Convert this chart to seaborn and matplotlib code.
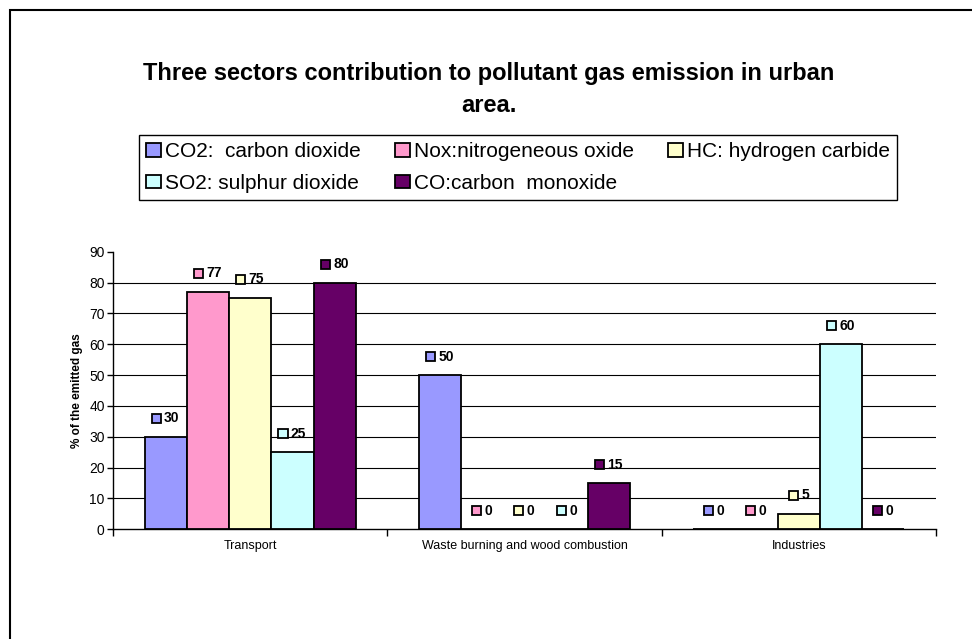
import matplotlib
matplotlib.use("Agg")
import matplotlib.pyplot as plt
import seaborn as sns
import pandas as pd
from matplotlib.patches import Rectangle, Patch
from matplotlib.offsetbox import AnnotationBbox, HPacker, DrawingArea, TextArea

# ---- data ----
sectors = ["Transport", "Waste burning and wood combustion", "Industries"]
gases = ["CO2:  carbon dioxide", "Nox:nitrogeneous oxide", "HC: hydrogen carbide",
         "SO2: sulphur dioxide", "CO:carbon  monoxide"]
co2 = [30, 50, 0]
nox = [77, 0, 0]
hc = [75, 0, 5]
so2 = [25, 0, 60]
co = [80, 15, 0]
colors = ["#9999FF", "#FF99CC", "#FFFFCC", "#CCFFFF", "#660066"]
yticks = [0, 10, 20, 30, 40, 50, 60, 70, 80, 90]
title = "Three sectors contribution to pollutant gas emission in urban\narea."
ylabel = "% of the emitted gas"

series = [co2, nox, hc, so2, co]
rows = []
for g, vals in zip(gases, series):
    for s, v in zip(sectors, vals):
        rows.append({"sector": s, "gas": g, "value": v})
df = pd.DataFrame(rows)

sns.set_theme(style="white")
plt.rcParams["font.family"] = ["Liberation Sans", "DejaVu Sans"]
plt.rcParams["text.color"] = "black"
plt.rcParams["axes.labelcolor"] = "black"
plt.rcParams["xtick.color"] = "black"
plt.rcParams["ytick.color"] = "black"
plt.rcParams["xtick.labelcolor"] = "black"
plt.rcParams["ytick.labelcolor"] = "black"

W, H = 972, 639
fig = plt.figure(figsize=(W / 100, H / 100), dpi=100)
fig.patch.set_facecolor("white")

# outer frame (top and left visible)
fig.add_artist(Rectangle((10 / W, -0.5), 2.0, 1.5 - 10 / H, transform=fig.transFigure,
                         fill=False, edgecolor="black", linewidth=1.5))

ax = fig.add_axes([113 / W, 1 - 529.3 / H, (936 - 113) / W, (529.3 - 251.7) / H])
sns.barplot(data=df, x="sector", y="value", hue="gas", hue_order=gases, order=sectors,
            palette=colors, saturation=1, width=0.77, edgecolor="black", linewidth=1.3,
            legend=False, ax=ax, zorder=3)

ax.set_ylim(0, 90)
ax.set_xlim(-0.5, len(sectors) - 0.5)
ax.set_yticks(yticks)
ax.set_yticklabels([str(t) for t in yticks], fontsize=10, color="black")
for t in yticks[1:-1]:
    ax.axhline(t, color="black", linewidth=0.8, zorder=1)

ax.set_xticks([i - 0.5 for i in range(len(sectors) + 1)])
ax.set_xticklabels([""] * (len(sectors) + 1))
ax.set_xticks(range(len(sectors)), minor=True)
ax.set_xticklabels(sectors, minor=True, fontsize=9, color="black")
ax.tick_params(axis="x", which="major", direction="out", length=5, width=1, color="black", bottom=True)
ax.tick_params(axis="x", which="minor", length=0, pad=8)
ax.tick_params(axis="y", direction="out", length=4, width=1, color="black", left=True, pad=2)
ax.set_xlabel("")
ax.set_ylabel(ylabel, fontsize=8.5, fontweight="bold", labelpad=4, color="black")
for side in ["top", "right"]:
    ax.spines[side].set_visible(False)
for side in ["left", "bottom"]:
    ax.spines[side].set_color("black")
    ax.spines[side].set_linewidth(1)
ax.grid(False)

# value labels with colored square markers
for cont, col in zip(ax.containers, colors):
    for bar in cont.patches:
        h = bar.get_height()
        cx = bar.get_x() + bar.get_width() / 2
        da = DrawingArea(6.5, 6.5, 0, 0)
        da.add_artist(Rectangle((0, 0), 6.5, 6.5, facecolor=col, edgecolor="black", linewidth=1.3))
        ta = TextArea(f"{h:.0f}", textprops=dict(fontsize=10, fontweight="bold", color="black"))
        pk = HPacker(children=[da, ta], align="center", pad=0, sep=2.5)
        ab = AnnotationBbox(pk, (cx, h), xybox=(0, 13.3), xycoords="data",
                            boxcoords="offset points", frameon=False,
                            box_alignment=(0.5, 0.5), pad=0, annotation_clip=False)
        ax.add_artist(ab)

# title
fig.text(0.503, 1 - 112 / H, title, ha="center", va="baseline", fontsize=17,
         fontweight="bold", linespacing=1.5, multialignment="center", color="black")

# legend (row-wise order in 3 columns)
order = [0, 3, 1, 4, 2]
handles = [Patch(facecolor=colors[i], edgecolor="black", linewidth=1.3) for i in order]
labels = [gases[i] for i in order]
leg = fig.legend(handles, labels, loc="upper left", bbox_to_anchor=(139 / W, 1 - 135 / H),
                 ncol=3, fontsize=15, frameon=True, fancybox=False, framealpha=1,
                 edgecolor="black", handlelength=0.7, handleheight=0.65, handletextpad=0.2,
                 columnspacing=1.65, borderpad=0.35, labelspacing=0.6, borderaxespad=0,
                 labelcolor="black")
leg.get_frame().set_linewidth(1)

fig.savefig("out.png", dpi=100, facecolor="white")
